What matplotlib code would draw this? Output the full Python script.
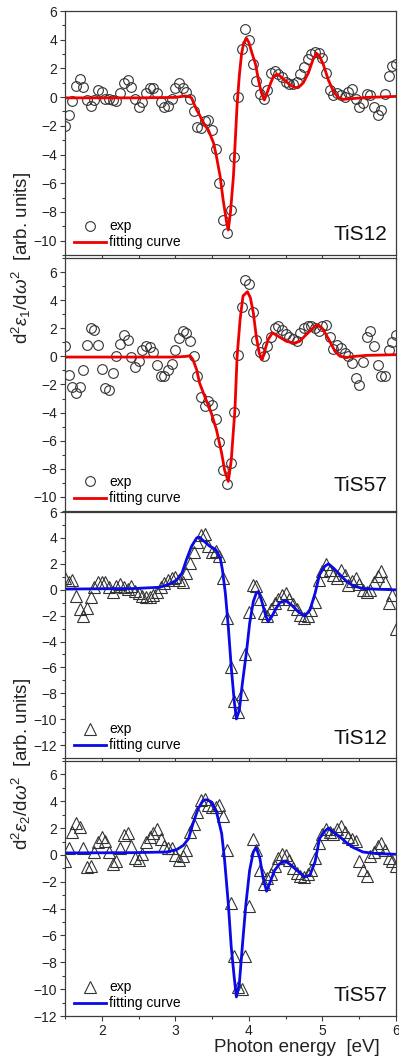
import matplotlib
matplotlib.use('Agg')
import matplotlib.pyplot as plt
from matplotlib.ticker import MultipleLocator
from matplotlib.lines import Line2D

plt.rcParams['font.family'] = ['Liberation Sans', 'DejaVu Sans']
plt.rcParams['mathtext.fontset'] = 'custom'
plt.rcParams['mathtext.rm'] = 'Liberation Sans'
plt.rcParams['mathtext.it'] = 'Liberation Sans:italic'

# photon energy grid of the measured points (eV)
energy = [1.50, 1.55, 1.60, 1.65, 1.70, 1.75, 1.80, 1.85, 1.90, 1.95,
          2.00, 2.05, 2.10, 2.15, 2.20, 2.25, 2.30, 2.35, 2.40, 2.45,
          2.50, 2.55, 2.60, 2.65, 2.70, 2.75, 2.80, 2.85, 2.90, 2.95,
          3.00, 3.05, 3.10, 3.15, 3.20, 3.25, 3.30, 3.35, 3.40, 3.45,
          3.50, 3.55, 3.60, 3.65, 3.70, 3.75, 3.80, 3.85, 3.90, 3.95,
          4.00, 4.05, 4.10, 4.15, 4.20, 4.25, 4.30, 4.35, 4.40, 4.45,
          4.50, 4.55, 4.60, 4.65, 4.70, 4.75, 4.80, 4.85, 4.90, 4.95,
          5.00, 5.05, 5.10, 5.15, 5.20, 5.25, 5.30, 5.35, 5.40, 5.45,
          5.50, 5.55, 5.60, 5.65, 5.70, 5.75, 5.80, 5.85, 5.90, 5.95,
          6.00]

# d2 eps1 / d omega2, TiS12 (experiment)
e1_tis12 = [-2.0, -1.25, -0.27, 0.77, 1.25, 0.72, -0.17, -0.63, -0.17, 0.48,
            0.37, -0.14, -0.14, -0.2, -0.26, 0.3, 1.0, 1.17, 0.72, -0.12,
            -0.68, -0.33, 0.3, 0.67, 0.67, 0.32, -0.33, -0.68, -0.63, -0.14,
            0.67, 0.99, 0.67, 0.37, -0.1, -0.96, -2.07, -2.14, -1.65, -1.56,
            -2.26, -3.62, -5.97, -8.56, -9.49, -7.87, -4.16, 0.02, 3.38, 4.72,
            4.0, 2.34, 1.13, 0.25, -0.14, 0.53, 1.69, 1.83, 1.64, 1.41,
            1.06, 0.94, 0.9, 1.04, 1.6, 2.1, 2.68, 3.03, 3.15, 3.1,
            2.75, 1.69, 0.48, 0.18, 0.3, 0.13, 0.02, 0.37, 0.6, -0.1,
            -0.68, -0.38, 0.25, 0.13, -0.68, -1.26, -0.91, 0.25, 1.45, 2.15,
            2.34]

# d2 eps1 / d omega2, TiS57 (experiment)
e1_tis57 = [0.76, -1.31, -2.21, -2.62, -2.21, -0.95, 0.83, 2.02, 1.9, 0.83,
            -0.9, -2.26, -2.38, -1.19, 0.0, 0.9, 1.55, 1.19, -0.05, -0.76,
            -0.36, 0.48, 0.76, 0.67, 0.29, -0.6, -1.38, -1.43, -0.95, -0.52,
            0.43, 1.31, 1.79, 1.67, 1.12, 0.0, -1.43, -2.86, -3.5, -3.21,
            -3.45, -4.48, -6.07, -8.1, -9.1, -7.57, -3.93, 0.12, 3.52, 5.43,
            5.12, 3.14, 1.14, 0.29, 0.0, 0.76, 1.38, 2.02, 2.19, 1.9,
            1.62, 1.38, 1.24, 1.07, 1.67, 2.02, 2.14, 2.14, 2.02, 1.79,
            2.14, 2.26, 1.38, 0.52, 0.83, 0.6, 0.24, 0.0, -0.48, -1.55,
            -2.02, -0.43, 1.38, 1.79, 0.76, -0.6, -1.43, -1.38, 0.43, 1.0,
            1.55]

# d2 eps2 / d omega2, TiS12 (experiment)
e2_tis12 = [0.9, 0.6, 0.75, -0.48, -1.5, -2.03, -1.44, -0.58, 0.19, 0.56,
            0.63, 0.56, 0.19, -0.14, 0.3, 0.45, 0.19, 0.09, 0.3, -0.07,
            -0.27, -0.48, -0.58, -0.58, -0.4, -0.14, 0.19, 0.5, 0.76, 0.89,
            1.02, 0.76, 0.63, 1.28, 2.06, 2.89, 3.66, 4.26, 4.34, 3.4,
            2.89, 2.96, 2.57, 0.89, -2.21, -5.97, -8.56, -9.46, -8.04, -4.98,
            -1.7, 0.37, 0.3, -0.74, -1.83, -2.03, -1.51, -1.05, -0.74, -0.4,
            -0.22, -0.74, -1.1, -1.51, -1.95, -2.21, -2.03, -1.57, -0.92, 0.76,
            1.41, 2.0, 1.54, 1.15, 0.89, 1.49, 1.15, 0.37, 0.71, 0.89,
            0.45, -0.01, -0.14, -0.01, 0.63, 1.07, 1.41, 0.63, -1.05, -0.4,
            -3.0]

# d2 eps2 / d omega2, TiS57 (experiment)
e2_tis57 = [-0.45, 0.55, 1.7, 2.4, 2.05, 0.5, -0.9, -0.85, 0.2, 1.0,
            1.3, 1.05, 0.2, -0.65, -0.45, 0.55, 1.45, 1.6, 0.65, -0.2,
            -0.35, 0.1, 0.95, 1.3, 1.6, 1.9, 1.2, 0.65, 0.55, 0.5,
            0.0, -0.4, -0.1, 0.35, 1.7, 2.3, 3.2, 4.1, 4.2, 3.7,
            3.55, 3.6, 3.75, 2.9, 0.4, -3.6, -7.5, -9.85, -10.0, -7.5,
            -3.8, 1.2, 0.4, -1.15, -2.15, -1.75, -1.4, -0.8, -0.2, 0.1,
            0.0, -0.4, -1.0, -1.35, -1.6, -1.65, -1.4, -1.15, -0.2, 0.9,
            1.55, 1.9, 1.7, 1.55, 1.9, 2.15, 1.7, 1.35, 1.2, 1.05,
            -0.45, -1.1, -1.6, -0.1, 0.2, 0.65, 0.9, 0.4, -0.2, -0.45,
            -0.8]

# fitting curves
fit1_x = [1.50, 2.50, 3.00, 3.13, 3.18, 3.22, 3.29, 3.33, 3.38, 3.45,
          3.52, 3.56, 3.61, 3.65, 3.70, 3.72, 3.75, 3.79, 3.81, 3.84,
          3.87, 3.90, 3.93, 3.97, 4.00, 4.04, 4.09, 4.13, 4.17, 4.21,
          4.24, 4.29, 4.33, 4.38, 4.43, 4.49, 4.56, 4.62, 4.67, 4.74,
          4.81, 4.87, 4.92, 4.96, 5.01, 5.08, 5.15, 5.21, 5.28, 5.37,
          5.60, 6.00]
fit1_y = [-0.05, -0.05, -0.02, 0.08, 0.05, -0.05, -0.9, -1.25, -1.8, -2.3,
          -3.2, -4.16, -5.55, -7.17, -8.8, -9.26, -8.0, -5.5, -3.5, -0.5,
          1.5, 3.0, 3.8, 4.08, 3.8, 3.1, 2.3, 1.2, 0.3, -0.2,
          0.2, 0.9, 1.4, 1.6, 1.45, 1.15, 0.85, 0.68, 0.66, 1.0,
          1.7, 2.6, 3.05, 2.85, 2.3, 1.2, 0.4, 0.0, -0.15, -0.12,
          -0.02, 0.05]

fit2_x = [1.50, 3.00, 3.15, 3.20, 3.24, 3.29, 3.33, 3.40, 3.49, 3.56,
          3.63, 3.67, 3.72, 3.76, 3.81, 3.84, 3.88, 3.92, 3.98, 4.02,
          4.06, 4.10, 4.14, 4.18, 4.22, 4.26, 4.32, 4.40, 4.51, 4.62,
          4.69, 4.78, 4.90, 4.94, 5.01, 5.10, 5.17, 5.24, 5.33, 5.44,
          5.60, 6.00]
fit2_y = [-0.05, -0.05, 0.0, 0.05, -0.24, -0.95, -1.9, -2.86, -4.05, -5.24,
          -6.9, -8.1, -8.9, -7.4, -3.8, 0.0, 2.6, 4.3, 4.6, 4.17,
          3.1, 1.43, 0.24, -0.24, 0.48, 1.19, 1.67, 1.43, 1.07, 0.95,
          1.07, 1.55, 2.14, 2.26, 1.9, 1.07, 0.36, 0.0, -0.07, 0.0,
          0.07, 0.12]

fit3_x = [1.50, 2.43, 2.79, 2.93, 3.02, 3.09, 3.15, 3.22, 3.29, 3.33,
          3.39, 3.47, 3.55, 3.61, 3.64, 3.68, 3.72, 3.76, 3.80, 3.83,
          3.87, 3.91, 3.97, 4.01, 4.06, 4.10, 4.13, 4.17, 4.22, 4.26,
          4.31, 4.37, 4.42, 4.50, 4.58, 4.67, 4.76, 4.83, 4.90, 4.96,
          5.03, 5.08, 5.15, 5.24, 5.33, 5.42, 5.55, 5.73, 6.00]
fit3_y = [0.05, 0.09, 0.19, 0.45, 0.76, 1.28, 2.3, 3.35, 4.0, 4.05,
          3.74, 3.35, 3.1, 2.45, 1.54, -0.27, -2.86, -5.97, -8.56, -9.98,
          -9.3, -7.3, -4.67, -2.6, -0.92, -0.27, -0.14, -0.79, -1.83, -2.47,
          -2.08, -1.44, -1.0, -0.84, -1.18, -1.7, -2.03, -1.57, -0.27, 1.15,
          1.8, 2.0, 1.67, 1.15, 0.63, 0.3, 0.09, 0.04, -0.01]

fit4_x = [1.50, 2.43, 2.88, 3.02, 3.11, 3.18, 3.24, 3.31, 3.38, 3.43,
          3.49, 3.56, 3.63, 3.67, 3.72, 3.76, 3.80, 3.83, 3.87, 3.91,
          3.96, 4.01, 4.06, 4.10, 4.15, 4.19, 4.24, 4.29, 4.35, 4.42,
          4.49, 4.56, 4.65, 4.76, 4.83, 4.90, 4.96, 5.03, 5.08, 5.15,
          5.24, 5.33, 5.42, 5.55, 5.73, 6.00]
fit4_y = [0.15, 0.17, 0.22, 0.4, 0.72, 1.22, 2.34, 3.45, 4.07, 4.12,
          3.95, 3.2, 1.59, -0.4, -3.63, -6.86, -9.1, -10.58, -9.6, -6.86,
          -3.63, -1.14, 0.22, 0.55, -0.27, -1.64, -2.7, -2.0, -1.14, -0.65,
          -0.45, -0.7, -1.14, -1.64, -1.5, -0.5, 1.22, 1.76, 2.0, 1.7,
          1.34, 0.9, 0.55, 0.22, 0.1, 0.05]

xticks = [2, 3, 4, 5, 6]
axis_col = '#3c3c3c'
red = '#ee0000'
blue = '#0a0ae6'

fig = plt.figure(figsize=(3.99, 10.59), dpi=100)
left, width = 0.1629, 0.8296

# bottom, height, ylim, data, fit, marker, colour, sample, text y
panels = [
    (0.7592, 0.2304, (-11, 6), e1_tis12, (fit1_x, fit1_y), 'o', red, 'TiS12', 0.082),
    (0.5175, 0.2389, (-11, 7), e1_tis57, (fit2_x, fit2_y), 'o', red, 'TiS57', 0.100),
    (0.2842, 0.2323, (-13, 6), e2_tis12, (fit3_x, fit3_y), '^', blue, 'TiS12', 0.080),
    (0.0406, 0.2408, (-12, 7), e2_tis57, (fit4_x, fit4_y), '^', blue, 'TiS57', 0.082),
]

axes = []
for k, (bot, h, ylim, ydata, fit, mk, col, name, ty) in enumerate(panels):
    ax = fig.add_axes([left, bot, width, h])
    ms = 7 if mk == 'o' else 8
    ax.plot(energy, ydata, linestyle='none', marker=mk, mfc='none',
            mec='#333333', mew=0.8, ms=ms)
    ax.plot(fit[0], fit[1], color=col, lw=2.0)
    ax.set_xlim(1.5, 6.0)
    ax.set_ylim(*ylim)
    ax.xaxis.set_major_locator(MultipleLocator(1))
    ax.xaxis.set_minor_locator(MultipleLocator(0.5))
    ax.yaxis.set_major_locator(MultipleLocator(2))
    ax.yaxis.set_minor_locator(MultipleLocator(1))
    ax.set_xticks(xticks)
    ax.tick_params(which='both', direction='out', color=axis_col, width=0.8,
                   labelsize=10, pad=2, labelcolor='#222222')
    ax.tick_params(which='major', length=3.5)
    ax.tick_params(which='minor', length=2)
    for s in ax.spines.values():
        s.set_color(axis_col)
        s.set_linewidth(0.9)
    if k < 3:
        ax.tick_params(axis='x', labelbottom=False)
    handles = [Line2D([], [], linestyle='none', marker=mk, mfc='none',
                      mec='#333333', mew=0.8, ms=ms),
               Line2D([], [], color=col, lw=2.0)]
    ax.legend(handles, ['exp', 'fitting curve'], loc='lower left',
              bbox_to_anchor=(0.01, 0.0), frameon=False, fontsize=10,
              handlelength=2.3, handletextpad=0.25, labelspacing=0.15,
              borderaxespad=0.2, borderpad=0.2)
    ax.text(0.975, ty, name, transform=ax.transAxes, ha='right', va='center',
            fontsize=15, color='#111111')
    axes.append(ax)

axes[3].set_xlabel('Photon energy  [eV]', fontsize=13.5, labelpad=1,
                   x=0.70, color='#222222')

fig.text(0.055, 0.756, r'd$^2\varepsilon_1$/d$\omega^2$  [arb. units]',
         rotation=90, ha='center', va='center', fontsize=13.5, color='#222222')
fig.text(0.055, 0.279, r'd$^2\varepsilon_2$/d$\omega^2$  [arb. units]',
         rotation=90, ha='center', va='center', fontsize=13.5, color='#222222')

fig.savefig('out.png', dpi=100)
